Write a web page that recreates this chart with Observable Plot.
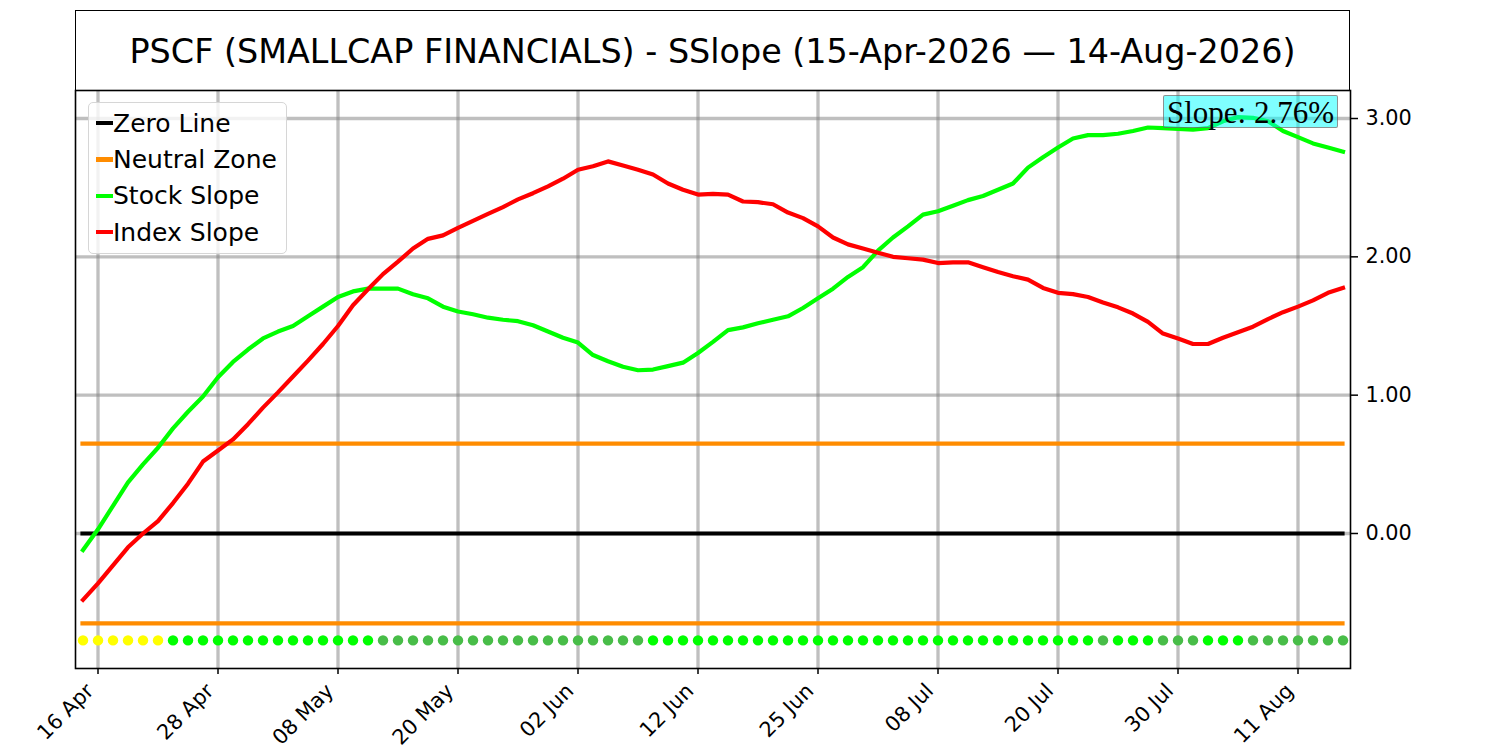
<!DOCTYPE html>
<html>
<head>
<meta charset="utf-8">
<script src="https://cdn.jsdelivr.net/npm/d3@7"></script>
<script src="https://cdn.jsdelivr.net/npm/@observablehq/plot@0.6"></script>
<style>
  html, body { margin: 0; padding: 0; background: white; width: 1500px; height: 750px; overflow: hidden; }
  body { position: relative; font-family: "DejaVu Sans", sans-serif; }
  #header { position: relative; height: 90px; }
  #titlebox { position: absolute; left: 75px; top: 10px; width: 1275px; height: 81px; box-sizing: border-box;
    border: 1.6px solid black; display: flex; align-items: center; justify-content: center;
    font-size: 33.4px; color: black; white-space: nowrap; padding-top: 2px; }
  #chart svg { display: block; overflow: visible; }
  #legend { position: absolute; left: 88px; top: 102px; width: 199px; height: 152px; box-sizing: border-box;
    border: 1.3px solid #d6d6d6; border-radius: 5px; background: rgba(255,255,255,0.8); padding: 2px 0 0 7px; }
  .item { height: 36.3px; display: flex; align-items: center; font-size: 25px; color: black; white-space: nowrap; }
  .handle { width: 17px; height: 4.2px; margin-right: 0px; }
  #slopebox { position: absolute; left: 1163px; top: 95px; width: 175px; height: 33px; box-sizing: border-box;
    background: rgba(0,255,255,0.5); border: 1.5px solid rgba(150,40,40,0.5); border-radius: 2px;
    font-family: "Liberation Serif", serif; font-size: 31px; color: black; display: flex; align-items: center;
    justify-content: center; line-height: 1; white-space: nowrap; padding-top: 1px; }
</style>
</head>
<body>
<div id="header"><div id="titlebox"></div></div>
<div id="chart"></div>
<div id="legend"></div>
<div id="slopebox"></div>
<script>
// ---- data ----
const chartTitle = "PSCF (SMALLCAP FINANCIALS) - SSlope (15-Apr-2026 — 14-Aug-2026)";

// one value per trading day, 15-Apr-2026 .. 14-Aug-2026 (85 sessions)
const stockSlope = [
  -0.12, 0.03, 0.20, 0.37, 0.50, 0.62, 0.76, 0.88, 0.99, 1.13,
  1.24, 1.33, 1.41, 1.46, 1.50, 1.57, 1.64, 1.71, 1.75, 1.77,
  1.77, 1.77, 1.73, 1.70, 1.64, 1.605, 1.585, 1.56, 1.545, 1.535,
  1.505, 1.46, 1.415, 1.38, 1.29, 1.245, 1.205, 1.18, 1.185, 1.21,
  1.235, 1.305, 1.385, 1.47, 1.49, 1.52, 1.545, 1.57, 1.63, 1.70,
  1.77, 1.855, 1.925, 2.045, 2.14, 2.22, 2.305, 2.33, 2.37, 2.41,
  2.44, 2.485, 2.53, 2.645, 2.72, 2.79, 2.855, 2.88, 2.88, 2.89,
  2.91, 2.935, 2.93, 2.925, 2.92, 2.93, 2.98, 3.01, 3.005, 2.98,
  2.91, 2.865, 2.82, 2.79, 2.76
];
const indexSlope = [
  -0.48, -0.36, -0.23, -0.10, 0.00, 0.09, 0.22, 0.36, 0.52, 0.60,
  0.68, 0.79, 0.91, 1.02, 1.135, 1.25, 1.37, 1.50, 1.65, 1.765,
  1.875, 1.965, 2.06, 2.13, 2.155, 2.21, 2.26, 2.31, 2.36, 2.415,
  2.46, 2.51, 2.565, 2.63, 2.655, 2.69, 2.66, 2.63, 2.595, 2.53,
  2.485, 2.45, 2.455, 2.45, 2.40, 2.395, 2.38, 2.32, 2.28, 2.22,
  2.14, 2.09, 2.06, 2.03, 2.00, 1.99, 1.98, 1.955, 1.96, 1.96,
  1.925, 1.89, 1.86, 1.835, 1.775, 1.74, 1.73, 1.71, 1.67, 1.635,
  1.59, 1.53, 1.445, 1.41, 1.37, 1.37, 1.415, 1.455, 1.495, 1.55,
  1.60, 1.64, 1.685, 1.74, 1.775
];
// signal dots: Y = neutral (yellow), G = strong (lime), D = moderate (green)
const dotSignal = (
  "YYYYYY" + "GGGGGGGGGGGGGG" + "DDDDDDDDDDDDDDDDDD" +
  "GGGGGGGGGGGGGGGGGGGGGGGGGGGGGG" + "D" + "GGG" + "DDD" + "GGG" + "DDDDDDD"
).split("");

const tickIndex  = [1, 9, 17, 25, 33, 41, 49, 57, 65, 73, 81];
const tickLabels = ["16 Apr", "28 Apr", "08 May", "20 May", "02 Jun", "12 Jun", "25 Jun", "08 Jul", "20 Jul", "30 Jul", "11 Aug"];
const yTicks = [0, 1, 2, 3];

const zeroLevel = 0;
const neutralZone = 0.65;
const dotLevel = -0.773;

const signalColor = { Y: "#ffff00", G: "#00ff00", D: "#48bd48" };
const seriesNames = ["Zero Line", "Neutral Zone", "Stock Slope", "Index Slope"];
const seriesColors = ["#000000", "#ff8c00", "#00ff00", "#ff0000"];

// ---- build ----
const rows = stockSlope.map((v, i) => ({ i, stock: v, index: indexSlope[i], sig: dotSignal[i] }));
const first = 0, last = rows.length - 1;

document.getElementById("titlebox").textContent = chartTitle;

const lw = 4.2;
const chart = Plot.plot({
  width: 1500,
  height: 660,
  marginLeft: 75,
  marginRight: 150,
  marginTop: 0,
  marginBottom: 82,
  x: { domain: [first - 0.5, last + 0.5], label: null },
  y: { domain: [-0.976, 3.2025], label: null },
  style: { fontFamily: "DejaVu Sans", fontSize: "20.8px", color: "black", background: "white", overflow: "visible" },
  marks: [
    Plot.gridX(tickIndex, { stroke: "gray", strokeOpacity: 0.5, strokeWidth: 3.3 }),
    Plot.gridY(yTicks, { stroke: "gray", strokeOpacity: 0.5, strokeWidth: 3.3 }),
    Plot.ruleY([zeroLevel], { x1: first, x2: last, stroke: seriesColors[0], strokeWidth: lw, strokeLinecap: "square" }),
    Plot.ruleY([neutralZone, -neutralZone], { x1: first, x2: last, stroke: seriesColors[1], strokeWidth: lw, strokeLinecap: "square" }),
    Plot.line(rows, { x: "i", y: "stock", stroke: seriesColors[2], strokeWidth: lw, strokeLinecap: "square", strokeLinejoin: "round", curve: "linear" }),
    Plot.line(rows, { x: "i", y: "index", stroke: seriesColors[3], strokeWidth: lw, strokeLinecap: "square", strokeLinejoin: "round", curve: "linear" }),
    Plot.dot(rows, { x: "i", y: () => dotLevel, r: 5.2, fill: d => signalColor[d.sig], stroke: null }),
    Plot.axisX(tickIndex, { tickSize: 6, text: null, strokeWidth: 1.5, label: null }),
    Plot.axisX(tickIndex, {
      tickFormat: d => tickLabels[tickIndex.indexOf(d)],
      tickRotate: -45, tickSize: 0, tickPadding: 12, fontSize: 20.8, dx: -8, dy: 7, label: null
    }),
    Plot.axisY(yTicks, { anchor: "right", tickFormat: d3.format(".2f"), tickSize: 7, tickPadding: 8, fontSize: 20.8, strokeWidth: 1.5, label: null }),
    Plot.frame({ stroke: "black", strokeWidth: 1.6 })
  ]
});
document.getElementById("chart").appendChild(chart);

// legend
const legend = document.getElementById("legend");
seriesNames.forEach((name, k) => {
  const it = document.createElement("div");
  it.className = "item";
  const h = document.createElement("span");
  h.className = "handle";
  h.style.background = seriesColors[k];
  const t = document.createElement("span");
  t.textContent = name;
  it.appendChild(h); it.appendChild(t);
  legend.appendChild(it);
});

// slope annotation
document.getElementById("slopebox").textContent = `Slope: ${stockSlope[last].toFixed(2)}%`;
</script>
</body>
</html>
